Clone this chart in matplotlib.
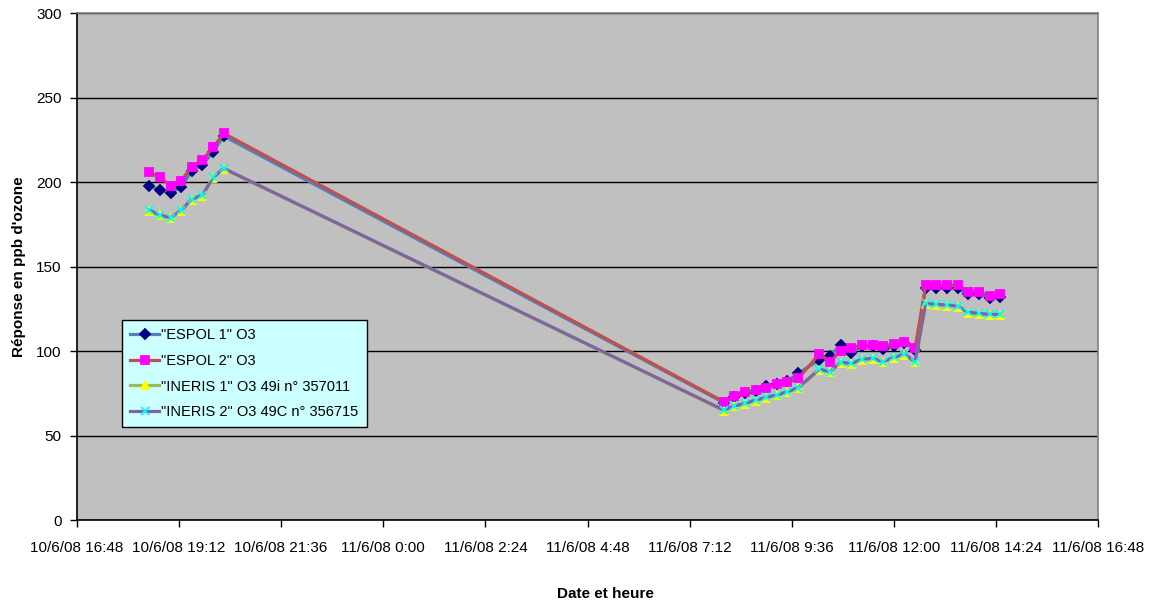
import matplotlib
matplotlib.use("Agg")
import matplotlib.pyplot as plt
import matplotlib.dates as mdates
from matplotlib.ticker import FuncFormatter
from datetime import datetime, timedelta

plt.rcParams['font.family'] = ['Liberation Sans', 'DejaVu Sans']

# Measurement times (10/6/08 evening, 11/6/08 morning to afternoon)
times_day1 = ["18:30", "18:45", "19:00", "19:15", "19:30", "19:45", "20:00", "20:15"]
times_day2 = ["8:00", "8:15", "8:30", "8:45", "9:00", "9:15", "9:30", "9:45",
              "10:15", "10:30", "10:45", "11:00", "11:15", "11:30", "11:45", "12:00",
              "12:15", "12:30", "12:45", "13:00", "13:15", "13:30", "13:45", "14:00",
              "14:15", "14:30"]

# Ozone readings (ppb)
espol1 = [197.8, 195.3, 193.3, 197.2, 206.7, 210.0, 218.0, 227.2,
          69.5, 73.0, 75.0, 76.5, 79.5, 80.5, 82.0, 86.8,
          94.7, 97.2, 103.6, 98.6, 103.0, 103.0, 101.0, 103.0,
          105.0, 100.5, 137.5, 137.0, 137.0, 137.0, 133.5, 133.5,
          131.5, 132.0]
espol2 = [205.7, 202.7, 197.8, 200.8, 209.1, 213.0, 220.5, 228.8,
          70.0, 73.4, 75.5, 76.9, 78.3, 80.5, 81.8, 83.8,
          98.2, 93.7, 100.2, 101.6, 103.6, 103.6, 103.1, 104.1,
          105.5, 101.6, 139.0, 139.0, 139.0, 139.0, 135.1, 135.1,
          132.5, 133.7]
ineris1 = [183.1, 180.2, 178.6, 183.1, 189.6, 192.0, 202.5, 207.8,
           64.8, 67.2, 68.7, 70.7, 72.3, 73.7, 75.6, 78.0,
           88.9, 87.5, 93.0, 92.4, 94.8, 95.4, 93.4, 96.0,
           97.9, 93.4, 127.9, 127.3, 126.9, 126.3, 122.6, 122.0,
           121.4, 121.4]
ineris2 = [183.4, 180.5, 178.9, 183.4, 189.9, 192.3, 202.8, 208.1,
           65.1, 67.5, 69.0, 71.0, 72.6, 74.0, 75.9, 78.3,
           89.2, 87.8, 93.3, 92.7, 95.1, 95.7, 93.7, 96.3,
           98.2, 93.7, 128.2, 127.6, 127.2, 126.6, 122.9, 122.3,
           121.7, 121.7]

series_labels = ['"ESPOL 1" O3', '"ESPOL 2" O3',
                 '"INERIS 1" O3 49i n° 357011', '"INERIS 2" O3 49C n° 356715']


def to_dt(day, hhmm):
    h, m = hhmm.split(":")
    return datetime(2008, 6, day, int(h), int(m))


times = [to_dt(10, t) for t in times_day1] + [to_dt(11, t) for t in times_day2]

fig = plt.figure(figsize=(11.54, 6.06), dpi=100)
fig.patch.set_facecolor("white")
ax = fig.add_axes([0.0667, 0.1419, 0.8848, 0.8366])
ax.set_facecolor("#C0C0C0")

styles = [
    (espol1, "#4F81BD", "D", "#000080", "#000080", 5.0),
    (espol2, "#C0504D", "s", "#FF00FF", "#FF00FF", 6.0),
    (ineris1, "#9BBB59", "^", "#FFFF00", "#FFFF00", 5.5),
    (ineris2, "#8064A2", "x", "#00FFFF", "#00FFFF", 5.5),
]
for (vals, lc, mk, mfc, mec, ms), lab in zip(styles, series_labels):
    ax.plot(times, vals, color=lc, lw=2.3, marker=mk, markersize=ms,
            markerfacecolor=mfc, markeredgecolor=mec, markeredgewidth=1.3,
            label=lab, zorder=3)

start = datetime(2008, 6, 10, 16, 48)
end = datetime(2008, 6, 11, 16, 48)
ax.set_xlim(start, end)
ax.set_ylim(0, 300)
ax.set_xticks([start + timedelta(minutes=144 * i) for i in range(11)])
ax.set_yticks(range(0, 301, 50))


def fmt_date(x, pos):
    d = mdates.num2date(x)
    return f"{d.day}/{d.month}/{d:%y} {d.hour}:{d:%M}"


ax.xaxis.set_major_formatter(FuncFormatter(fmt_date))
ax.tick_params(axis="both", labelsize=11, color="black", length=5, width=1,
               direction="out")
ax.tick_params(axis="x", pad=10)
ax.tick_params(axis="y", pad=6)

ax.yaxis.grid(True, color="black", lw=1)
ax.set_axisbelow(True)
for side in ("left", "bottom"):
    ax.spines[side].set_color("black")
    ax.spines[side].set_linewidth(1.2)
for side in ("top", "right"):
    ax.spines[side].set_color("#808080")
    ax.spines[side].set_linewidth(1.2)

ax.set_ylabel("Réponse en ppb d'ozone", fontsize=11, fontweight="bold", labelpad=7)
fig.text(0.525, 0.02, "Date et heure", ha="center", va="center",
         fontsize=11, fontweight="bold")

leg = ax.legend(loc="lower left", bbox_to_anchor=(0.044, 0.183), fontsize=10.5,
                frameon=True, fancybox=False, framealpha=1, edgecolor="black",
                facecolor="#CCFFFF", handlelength=2.0, handletextpad=0.15,
                labelspacing=0.8, borderpad=0.55, borderaxespad=0)
leg.get_frame().set_linewidth(1.0)
leg.set_zorder(5)

fig.savefig("out.png", dpi=100)
